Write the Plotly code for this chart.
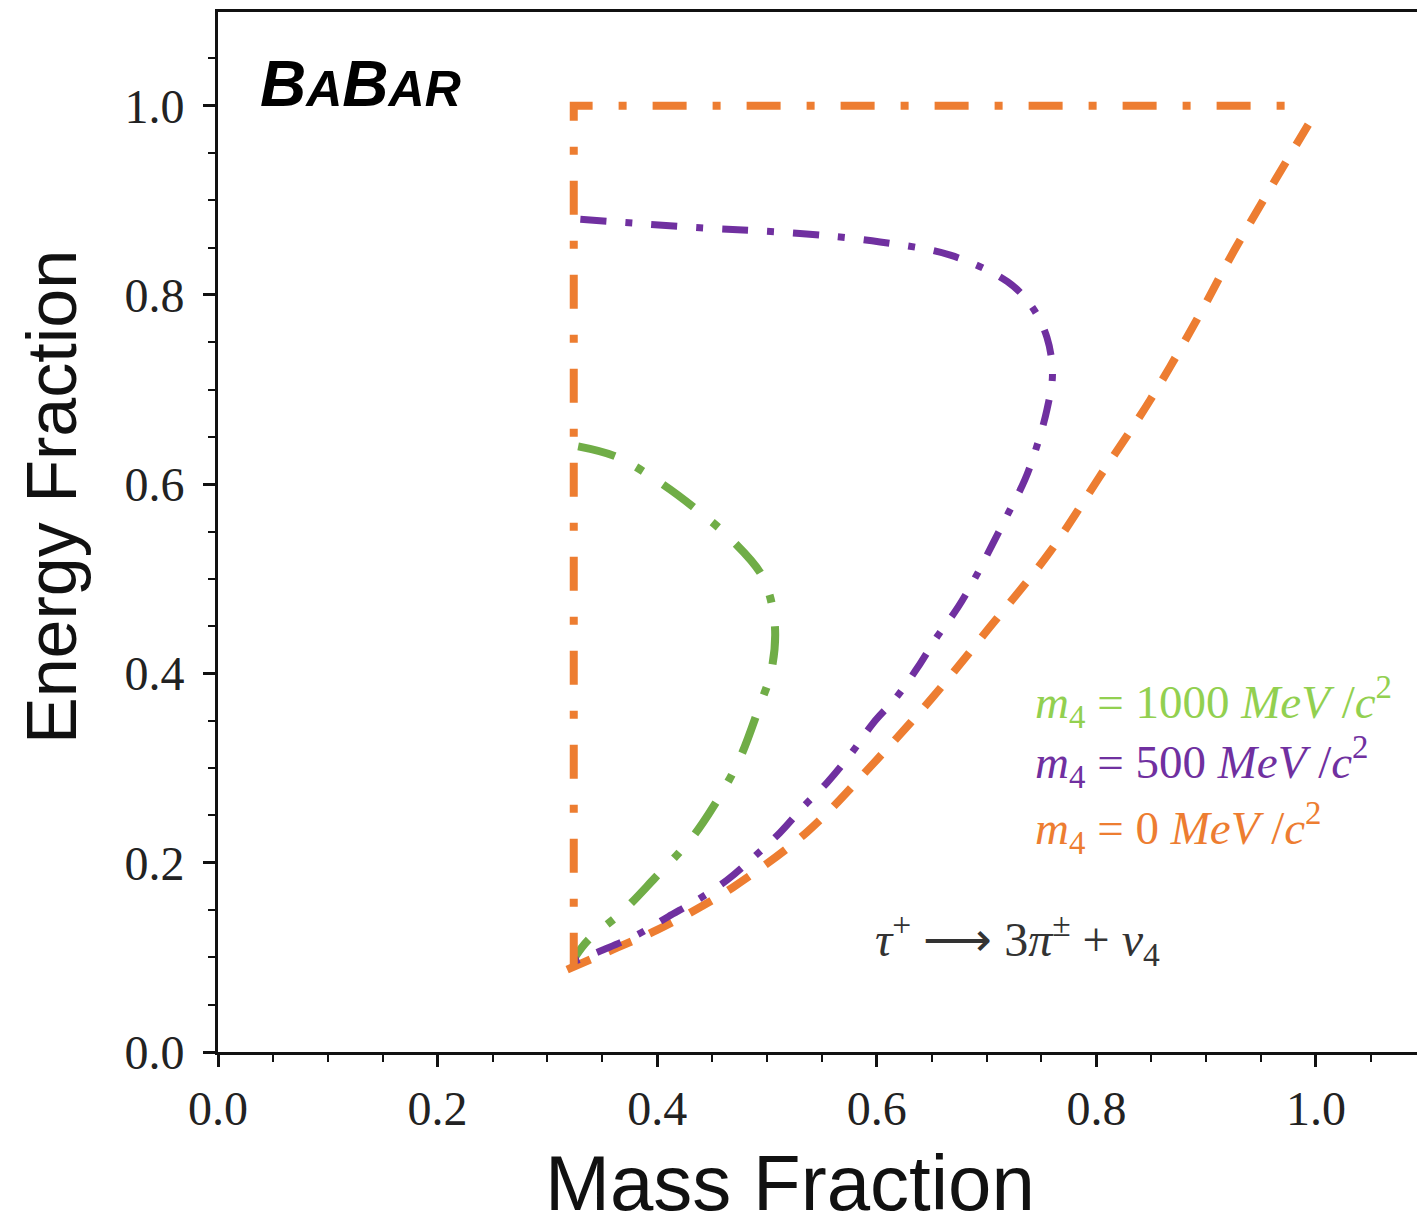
import plotly.graph_objects as go

# ---- data ----
orange_box_x = [0.324, 0.324, 0.993]
orange_box_y = [0.090, 1.000, 1.000]

orange_low_x = [0.318, 0.363, 0.400, 0.439, 0.469, 0.536, 0.597, 0.651, 0.703, 0.758, 0.803, 0.849, 0.893, 0.926, 0.993]
orange_low_y = [0.087, 0.110, 0.129, 0.153, 0.174, 0.232, 0.305, 0.375, 0.449, 0.529, 0.608, 0.689, 0.777, 0.848, 0.980]

purple_x = [0.330, 0.439, 0.530, 0.603, 0.667, 0.719, 0.741, 0.755, 0.760, 0.755, 0.746, 0.735, 0.720,
            0.706, 0.690, 0.674, 0.655, 0.637, 0.618, 0.597, 0.577, 0.555, 0.533, 0.512, 0.487,
            0.464, 0.437, 0.410, 0.382, 0.351, 0.321]
purple_y = [0.880, 0.871, 0.865, 0.856, 0.842, 0.814, 0.788, 0.755, 0.716, 0.679, 0.641, 0.605, 0.570,
            0.538, 0.502, 0.470, 0.439, 0.406, 0.375, 0.348, 0.316, 0.285, 0.259, 0.232, 0.205,
            0.182, 0.161, 0.143, 0.124, 0.108, 0.094]

green_x = [0.328, 0.363, 0.401, 0.435, 0.468, 0.496, 0.507, 0.504, 0.493, 0.474, 0.451, 0.430, 0.398,
           0.368, 0.337, 0.325]
green_y = [0.640, 0.629, 0.603, 0.574, 0.541, 0.502, 0.453, 0.403, 0.365, 0.307, 0.259, 0.224, 0.184,
           0.148, 0.118, 0.100]

x_ticks = [0.0, 0.2, 0.4, 0.6, 0.8, 1.0]
y_ticks = [0.0, 0.2, 0.4, 0.6, 0.8, 1.0]
x_tick_labels = ["0.0", "0.2", "0.4", "0.6", "0.8", "1.0"]
y_tick_labels = ["0.0", "0.2", "0.4", "0.6", "0.8", "1.0"]

ORANGE = "#ED7D31"
PURPLE = "#7030A0"
GREEN = "#70AD47"
GREEN_TXT = "#92D050"

fig = go.Figure()
fig.add_trace(go.Scatter(x=orange_low_x, y=orange_low_y, mode="lines", line_shape="spline",
                         line=dict(color=ORANGE, width=8, dash="25px,20px"), hoverinfo="skip"))
fig.add_trace(go.Scatter(x=green_x, y=green_y, mode="lines", line_shape="spline",
                         line=dict(color=GREEN, width=8, dash="38px,24px,8px,24px"), hoverinfo="skip"))
fig.add_trace(go.Scatter(x=purple_x, y=purple_y, mode="lines", line_shape="spline",
                         line=dict(color=PURPLE, width=7, dash="26px,19px,7px,19px"), hoverinfo="skip"))
fig.add_trace(go.Scatter(x=orange_box_x, y=orange_box_y, mode="lines",
                         line=dict(color=ORANGE, width=8, dash="34px,26px,8px,26px"), hoverinfo="skip"))

serif = "Liberation Serif"
axis_common = dict(
    showgrid=False, zeroline=False, showline=True, linecolor="#111", linewidth=3,
    ticks="outside", ticklen=12, tickwidth=2.5, tickcolor="#111",
    tickfont=dict(family=serif, size=48, color="#222"),
    minor=dict(dtick=0.05, ticks="outside", ticklen=7, tickwidth=2, tickcolor="#111"),
)

fig.update_xaxes(range=[0, 1.092], tickvals=x_ticks, ticktext=x_tick_labels, mirror=True,
                 ticklabelstandoff=0, **axis_common)
fig.update_yaxes(range=[0, 1.099], tickvals=y_ticks, ticktext=y_tick_labels,
                 ticklabelstandoff=9, **axis_common)

W, H = 1417, 1227
L, R, T, B = 218, 0, 12, 175
pw, ph = W - L - R, H - T - B

def px(xp):
    return (xp - L) / pw

def py(yp):
    return (H - B - yp) / ph

annotations = [
    dict(text="Energy Fraction", x=px(52), y=py(497), xref="paper", yref="paper",
         xanchor="center", yanchor="middle", textangle=-90, showarrow=False,
         font=dict(family="Liberation Sans", size=70, color="#111")),
    dict(text="Mass Fraction", x=px(790), y=py(1183), xref="paper", yref="paper",
         xanchor="center", yanchor="middle", showarrow=False,
         font=dict(family="Liberation Sans", size=78, color="#111")),
    dict(text="<b><i>B<span style='font-size:50px'>A</span>B<span style='font-size:50px'>AR</span></i></b>",
         x=px(258), y=py(84), xref="paper", yref="paper", xanchor="left", yanchor="middle",
         showarrow=False, font=dict(family="Liberation Sans", size=64, color="#000")),
    dict(text="<i>m</i><sub>4</sub> = 1000 <i>MeV</i> /<i>c</i><sup>2</sup>",
         x=px(1033), y=py(702), xref="paper", yref="paper", xanchor="left", yanchor="middle",
         showarrow=False, font=dict(family=serif, size=47, color=GREEN_TXT)),
    dict(text="<i>m</i><sub>4</sub> = 500 <i>MeV</i> /<i>c</i><sup>2</sup>",
         x=px(1033), y=py(762), xref="paper", yref="paper", xanchor="left", yanchor="middle",
         showarrow=False, font=dict(family=serif, size=47, color=PURPLE)),
    dict(text="<i>m</i><sub>4</sub> = 0 <i>MeV</i> /<i>c</i><sup>2</sup>",
         x=px(1033), y=py(828), xref="paper", yref="paper", xanchor="left", yanchor="middle",
         showarrow=False, font=dict(family=serif, size=47, color=ORANGE)),
    dict(text="<i>τ</i><sup>+</sup> ⟶ 3<i>π</i><sup>±</sup> + <i>ν</i><sub>4</sub>",
         x=px(873), y=py(940), xref="paper", yref="paper", xanchor="left", yanchor="middle",
         showarrow=False, font=dict(family=serif, size=48, color="#333")),
]

fig.update_layout(
    width=W, height=H, margin=dict(l=L, r=R, t=T, b=B, pad=0),
    plot_bgcolor="white", paper_bgcolor="white", showlegend=False,
    annotations=annotations,
)

fig.write_html("out.html")
